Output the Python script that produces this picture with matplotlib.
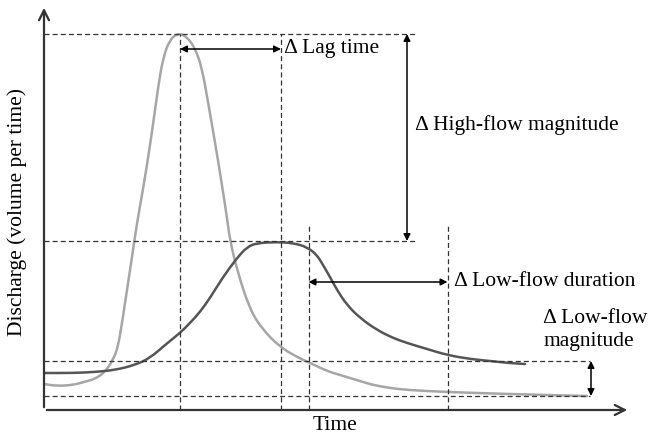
import matplotlib
matplotlib.use("Agg")
import matplotlib.pyplot as plt
from matplotlib.path import Path
from matplotlib.patches import PathPatch

plt.rcParams['font.family'] = ['Liberation Serif', 'DejaVu Serif']

# fast-response hydrograph (light grey), arbitrary units
t_fast = [0, 13, 29, 40, 51, 61, 69, 74, 78, 83, 88, 93, 98, 103, 109, 114, 119,
          126, 135, 143, 151, 158, 164, 171, 178, 183, 186, 193, 206, 219, 236,
          253, 266, 283, 296, 316, 329, 346, 363, 403, 463, 543]
q_fast = [26, 24, 25, 28, 31, 38, 50, 63, 87, 120, 153, 187, 215, 245, 285, 322, 352,
          371, 377, 373, 362, 342, 308, 268, 225, 192, 170, 140, 100, 80, 63,
          53, 47, 39, 35, 29, 25, 22, 20, 18, 16, 14]

# attenuated hydrograph (dark grey)
t_slow = [0, 29, 51, 71, 91, 106, 121, 136, 146, 156, 166, 179, 193, 203, 213,
          233, 249, 263, 273, 279, 286, 293, 303, 316, 333, 349, 363, 383, 403,
          426, 446, 465, 481]
q_slow = [37, 37, 38, 40, 45, 52, 65, 77, 87, 98, 112, 133, 152, 163, 167,
          168, 167, 163, 155, 145, 133, 120, 105, 92, 80, 72, 67, 61, 55,
          51, 49, 47, 46]

# reference levels and times
q_levels = [376, 169, 49, 14]
q_level_ends = [373, 373, 546, 546]
t_marks = [136, 237, 264.5, 403.5]
t_mark_tops = [376, 376, 186, 186]


def smooth_path(xs, ys):
    # quadratic bezier through midpoints, the read points act as control points
    pts = list(zip(xs, ys))
    verts = [pts[0]]
    codes = [Path.MOVETO]
    mid = lambda a, b: ((a[0] + b[0]) / 2, (a[1] + b[1]) / 2)
    verts.append(mid(pts[0], pts[1]))
    codes.append(Path.LINETO)
    for i in range(1, len(pts) - 1):
        verts += [pts[i], mid(pts[i], pts[i + 1])]
        codes += [Path.CURVE3, Path.CURVE3]
    verts.append(pts[-1])
    codes.append(Path.LINETO)
    return Path(verts, codes)


fig = plt.figure(figsize=(6.48, 4.38), dpi=100)
ax = fig.add_axes([44 / 648, 28 / 438, 586 / 648, 405 / 438])
ax.set_xlim(0, 586)
ax.set_ylim(0, 405)
ax.axis('off')

dash = dict(color='#333333', lw=0.9, ls=(0, (4, 2.5)))
for q, end in zip(q_levels, q_level_ends):
    ax.plot([0, end], [q, q], **dash)
for t, top in zip(t_marks, t_mark_tops):
    ax.plot([t, t], [0, top], **dash)

ax.add_patch(PathPatch(smooth_path(t_fast, q_fast), fill=False, edgecolor='#a6a6a6',
                       lw=1.8, capstyle='round', joinstyle='round'))
ax.add_patch(PathPatch(smooth_path(t_slow, q_slow), fill=False, edgecolor='#555555',
                       lw=1.8, capstyle='round', joinstyle='round'))

# axes with open arrow heads
ax.annotate('', xy=(0, 405), xytext=(0, 0),
            arrowprops=dict(arrowstyle='->', color='#333333', lw=1.6, mutation_scale=18))
ax.annotate('', xy=(586, 0), xytext=(0, 0),
            arrowprops=dict(arrowstyle='->', color='#333333', lw=1.6, mutation_scale=18))

# dimension arrows
arr = dict(arrowstyle='<|-|>', color='black', lw=1.1, mutation_scale=10, shrinkA=0, shrinkB=0)
ax.annotate('', xy=(t_marks[0], 361), xytext=(t_marks[1], 361), arrowprops=arr)
ax.annotate('', xy=(363, q_levels[0]), xytext=(363, q_levels[1]), arrowprops=arr)
ax.annotate('', xy=(t_marks[2], 128), xytext=(t_marks[3], 128), arrowprops=arr)
ax.annotate('', xy=(547, q_levels[2]), xytext=(547, q_levels[3]), arrowprops=arr)

fs = 15.5
ax.text(240, 361, '\u0394 Lag time', fontsize=fs, va='center', ha='left')
ax.text(371, 285, '\u0394 High-flow magnitude', fontsize=fs, va='center', ha='left')
ax.text(410, 128, '\u0394 Low-flow duration', fontsize=fs, va='center', ha='left')
ax.text(499, 80, '\u0394 Low-flow\nmagnitude', fontsize=fs, va='center', ha='left',
        linespacing=1.3)
ax.text(291, -15, 'Time', fontsize=fs, va='center', ha='center', clip_on=False)
ax.text(-27, 198, 'Discharge (volume per time)', fontsize=fs, va='center',
        ha='center', rotation=90, clip_on=False)

fig.savefig('out.png', dpi=100)
